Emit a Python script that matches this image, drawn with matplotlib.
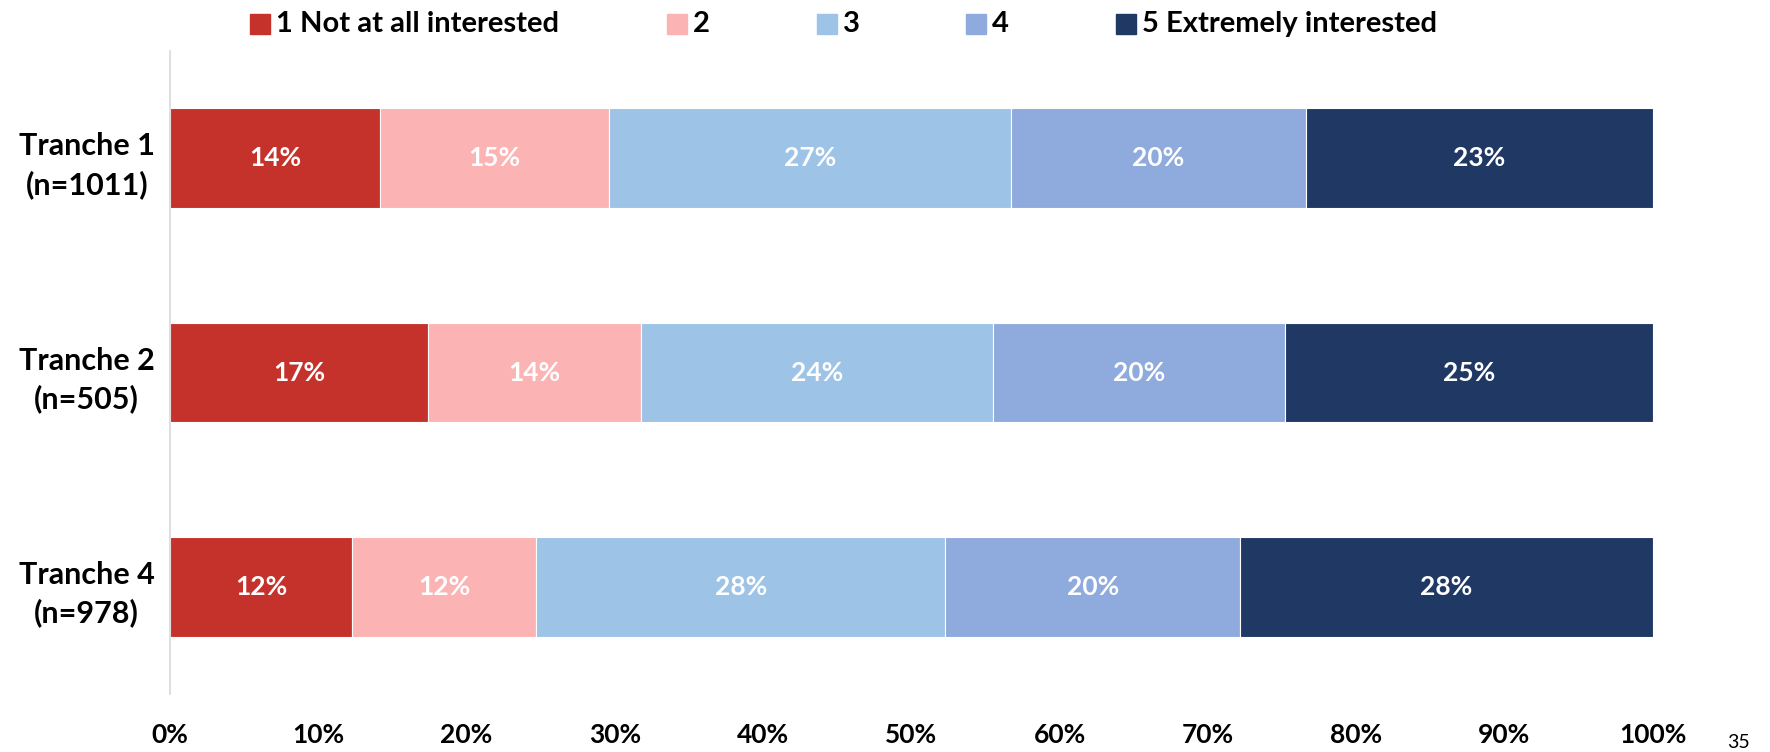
import numpy as np
import matplotlib.pyplot as plt
from matplotlib.patches import Rectangle

plt.rcParams['font.family'] = ['Lato', 'DejaVu Sans']

# survey groups and share of answers per interest level (percent)
groups = ["Tranche 1\n(n=1011)", "Tranche 2\n(n=505)", "Tranche 4\n(n=978)"]
levels = ["1 Not at all interested", "2", "3", "4", "5 Extremely interested"]
level1 = [14.2, 17.4, 12.3]
level2 = [15.4, 14.4, 12.4]
level3 = [27.1, 23.7, 27.6]
level4 = [19.9, 19.7, 19.9]
level5 = [23.4, 24.8, 27.8]
ticks = [0, 10, 20, 30, 40, 50, 60, 70, 80, 90, 100]
page_no = "35"

colors = ["#C5312B", "#FBB4B3", "#9DC3E6", "#8FAADC", "#203864"]

fig = plt.figure(figsize=(17.7, 7.52), dpi=100)
ax = fig.add_axes([0.096, 0.077, 0.8377, 0.855])

y = np.arange(len(groups))
left = np.zeros(len(groups))
series = [level1, level2, level3, level4, level5]
for vals, col in zip(series, colors):
    vals = np.array(vals)
    ax.barh(y, vals, left=left, height=0.465, color=col,
            edgecolor="white", linewidth=0.8)
    for yi, l, v in zip(y, left, vals):
        ax.text(l + v / 2, yi, "{:.0f}%".format(v), ha="center", va="center",
                color="white", fontsize=19, fontweight="bold")
    left = left + vals

ax.set_xlim(0, 100)
ax.set_ylim(2.5, -0.5)
ax.set_yticks(y)
ax.set_yticklabels(groups, fontsize=22, fontweight="bold", linespacing=1.4)
for t in ax.get_yticklabels():
    t.set_multialignment("center")
ax.set_xticks(ticks)
ax.set_xticklabels(["{}%".format(t) for t in ticks], fontsize=19,
                   fontweight="bold")
ax.tick_params(axis="both", length=0)
ax.tick_params(axis="x", pad=21)
ax.tick_params(axis="y", pad=11)
for s in ["top", "right", "bottom"]:
    ax.spines[s].set_visible(False)
ax.spines["left"].set_color("#D9D9D9")
ax.spines["left"].set_linewidth(1.2)

# legend drawn by hand so the entries keep their uneven spacing
W, H = 1770.0, 752.0
box_x = [250, 667, 817, 966, 1116]
for bx, lab, col in zip(box_x, levels, colors):
    fig.patches.append(Rectangle((bx / W, 1 - 34 / H), 20 / W, 20 / H,
                                 transform=fig.transFigure, color=col))
    fig.text((bx + 26) / W, 1 - 24 / H, lab, fontsize=21, fontweight="bold",
             va="center", ha="left")

fig.text(1738 / W, 1 - 743 / H, page_no, fontsize=14, ha="center",
         va="center")

fig.savefig("out.png", dpi=100)
